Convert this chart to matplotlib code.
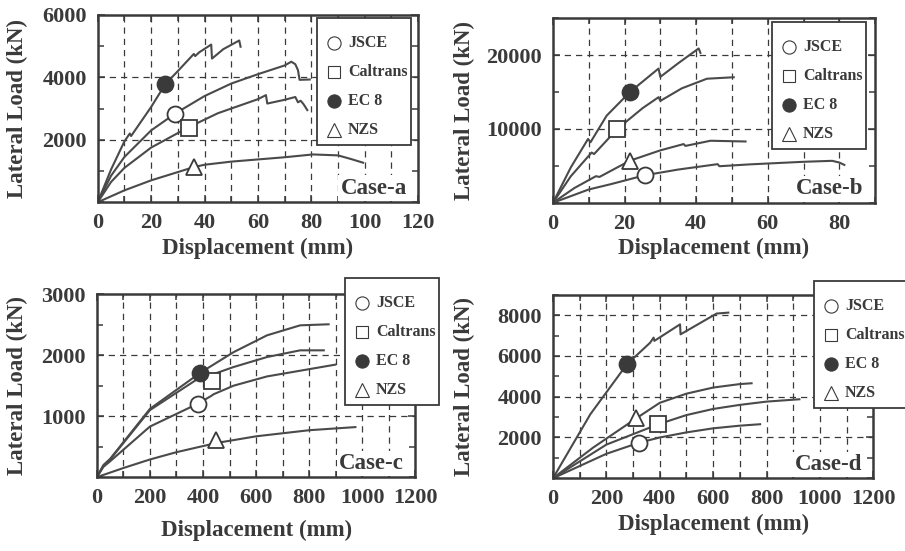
"""Pushover curves for four bridge cases, compared with code predictions."""

import matplotlib.pyplot as plt
from matplotlib.lines import Line2D
from matplotlib.patches import Rectangle
from matplotlib.ticker import MultipleLocator

plt.rcParams["font.family"] = ["Liberation Serif", "DejaVu Serif"]
plt.rcParams["font.weight"] = "bold"

# ---- data: Case-a (mm, kN) ----
a_ec8_x = [0, 5, 10, 12, 12.5, 20, 25.3, 30, 36, 36.5, 38, 42.5, 42.8, 47, 53, 53.5]
a_ec8_y = [0, 1050, 1950, 2200, 2120, 3050, 3780, 4200, 4750, 4680, 4800, 5050, 4600, 4900, 5180, 4980]
a_jsce_x = [0, 5, 10, 20, 29, 40, 50, 60, 70, 72.5, 74, 75, 75.6, 79.4]
a_jsce_y = [0, 850, 1450, 2300, 2840, 3400, 3800, 4100, 4380, 4500, 4420, 4230, 3920, 3930]
a_cal_x = [0, 5, 10, 20, 34, 45, 55, 60, 63, 63.5, 70, 74, 75, 76, 77, 78.5]
a_cal_y = [0, 650, 1100, 1750, 2400, 2850, 3150, 3300, 3430, 3160, 3280, 3370, 3200, 3250, 3150, 2950]
a_nzs_x = [0, 10, 20, 36, 40, 50, 60, 70, 80.6, 90, 95, 99.4]
a_nzs_y = [0, 380, 700, 1125, 1200, 1300, 1370, 1440, 1530, 1500, 1380, 1265]
a_mark_x = [29, 34, 25.3, 36]          # JSCE, Caltrans, EC 8, NZS
a_mark_y = [2840, 2390, 3780, 1125]

# ---- data: Case-b ----
b_ec8_x = [0, 5, 9.8, 10.5, 15, 21.5, 29.5, 30, 35, 40.7, 41.2]
b_ec8_y = [0, 4800, 8640, 8200, 11800, 15000, 18180, 17050, 18900, 20900, 20300]
b_cal_x = [0, 5, 10.8, 11.5, 18, 25, 29.5, 30, 36, 43, 50.5]
b_cal_y = [0, 3600, 6800, 6600, 10000, 12800, 14300, 13800, 15500, 16800, 17000]
b_nzs_x = [0, 6, 12, 13, 21.5, 30, 36.5, 37, 44, 53.8]
b_nzs_y = [0, 2000, 3600, 3500, 5700, 7100, 7950, 7700, 8400, 8300]
b_jsce_x = [0, 10, 16, 25.7, 35, 46, 46.5, 55, 70, 78, 80, 81.4]
b_jsce_y = [0, 1800, 2500, 3730, 4500, 5230, 4950, 5200, 5550, 5680, 5450, 5130]
b_mark_x = [25.7, 18, 21.5, 21.5]
b_mark_y = [3730, 10000, 15000, 5700]

# ---- data: Case-c ----
c_ec8_x = [0, 25, 50, 200, 390, 515, 641, 766, 873]
c_ec8_y = [0, 200, 300, 1120, 1713, 2050, 2326, 2490, 2507]
c_cal_x = [0, 25, 50, 200, 390, 433, 515, 641, 766, 855]
c_cal_y = [0, 190, 290, 1100, 1640, 1680, 1806, 1970, 2080, 2080]
c_jsce_x = [0, 25, 50, 200, 380, 430, 440, 515, 641, 898]
c_jsce_y = [0, 170, 260, 830, 1204, 1330, 1360, 1500, 1652, 1845]
c_nzs_x = [0, 100, 200, 300, 450, 600, 800, 974]
c_nzs_y = [0, 150, 290, 410, 560, 670, 770, 821]
c_mark_x = [380, 433, 390, 450]
c_mark_y = [1204, 1571, 1713, 602]

# ---- data: Case-d ----
d_ec8_x = [0, 140, 277, 364, 377, 380, 476, 478, 613, 657]
d_ec8_y = [0, 3140, 5590, 6650, 6900, 6740, 7550, 7060, 8080, 8125]
d_nzs_x = [0, 150, 312, 400, 500, 600, 700, 744]
d_nzs_y = [0, 1500, 2940, 3700, 4150, 4450, 4620, 4660]
d_cal_x = [0, 200, 395, 500, 600, 700, 800, 923]
d_cal_y = [0, 1650, 2650, 3100, 3400, 3600, 3760, 3875]
d_jsce_x = [0, 200, 324, 400, 500, 600, 700, 776]
d_jsce_y = [0, 1200, 1750, 2000, 2250, 2450, 2580, 2650]
d_mark_x = [324, 395, 277, 312]
d_mark_y = [1750, 2650, 5590, 2943]

codes = ["JSCE", "Caltrans", "EC 8", "NZS"]
markers = ["o", "s", "o", "^"]
fills = ["white", "white", "#3a3a3a", "white"]

ink = "#3a3a3a"
line_c = "#4a4a4a"

W, H = 905, 551
fig = plt.figure(figsize=(W / 100, H / 100), dpi=100)


def fx(px):
    return px / W


def fy(py):
    return 1 - py / H


def draw_legend(left, top):
    """Legend box placed in figure pixels (top-left origin)."""
    w, h = 94, 127
    fig.add_artist(Rectangle((fx(left), fy(top + h)), w / W, h / H,
                             transform=fig.transFigure, fc="white", ec=ink,
                             lw=1.3, zorder=20))
    for i, (lab, m, fc) in enumerate(zip(codes, markers, fills)):
        yy = top + 25 + 29 * i
        fig.add_artist(Line2D([fx(left + 17)], [fy(yy)], transform=fig.transFigure,
                              marker=m, ms=9.5 if m != "s" else 9, mfc=fc, mec=ink,
                              mew=0.8, ls="none", zorder=21))
        fig.text(fx(left + 31), fy(yy), lab, ha="left", va="center", fontsize=11.5,
                 fontweight="bold", color=ink, zorder=21)


panels = [
    # axes position, xlim, ylim, x major step, x grid step, y ticks, curves, marks, case,
    # legend px, xlabel pad, ylabel x (axes fraction)
    ([0.108, 0.633, 0.354, 0.340], (0, 120), (0, 6000), 20, 10, [2000, 4000, 6000],
     [(a_ec8_x, a_ec8_y), (a_jsce_x, a_jsce_y), (a_cal_x, a_cal_y), (a_nzs_x, a_nzs_y)],
     (a_mark_x, a_mark_y), "Case-a", (317, 18), 3, -0.219),
    ([0.611, 0.632, 0.356, 0.335], (0, 90), (0, 25000), 20, 10, [10000, 20000],
     [(b_ec8_x, b_ec8_y), (b_cal_x, b_cal_y), (b_nzs_x, b_nzs_y), (b_jsce_x, b_jsce_y)],
     (b_mark_x, b_mark_y), "Case-b", (772, 22), 3, -0.242),
    ([0.107, 0.134, 0.352, 0.332], (0, 1200), (0, 3000), 200, 100, [1000, 2000, 3000],
     [(c_ec8_x, c_ec8_y), (c_cal_x, c_cal_y), (c_jsce_x, c_jsce_y), (c_nzs_x, c_nzs_y)],
     (c_mark_x, c_mark_y), "Case-c", (345, 278), 8, -0.217),
    ([0.611, 0.132, 0.354, 0.333], (0, 1200), (0, 9000), 200, 100, [2000, 4000, 6000, 8000],
     [(d_ec8_x, d_ec8_y), (d_nzs_x, d_nzs_y), (d_cal_x, d_cal_y), (d_jsce_x, d_jsce_y)],
     (d_mark_x, d_mark_y), "Case-d", (814, 281), 3, -0.244),
]

for pos, xlim, ylim, xmaj, xgrid, yticks, curves, marks, case, legpos, xpad, ylx in panels:
    ax = fig.add_axes(pos)
    ax.set_xlim(*xlim)
    ax.set_ylim(*ylim)

    # dashed grid
    gx = xgrid
    while gx < xlim[1]:
        ax.axvline(gx, color=ink, lw=0.9, ls=(0, (5, 4)), zorder=1)
        gx += xgrid
    for gy in yticks:
        if gy < ylim[1]:
            ax.axhline(gy, color=ink, lw=0.9, ls=(0, (5, 4)), zorder=1)

    for cx, cy in curves:
        ax.plot(cx, cy, color=line_c, lw=1.5, zorder=2)

    for mx, my, m, fc in zip(marks[0], marks[1], markers, fills):
        ax.plot(mx, my, marker=m, ms=11.5 if m != "s" else 11, mfc=fc,
                mec=ink, mew=1.3, ls="none", zorder=4)

    ax.xaxis.set_major_locator(MultipleLocator(xmaj))
    ax.xaxis.set_minor_locator(MultipleLocator(xgrid))
    ax.set_yticks(yticks)
    ax.yaxis.set_minor_locator(MultipleLocator(yticks[0] / 2))
    ax.tick_params(which="both", direction="in", top=True, right=True,
                   colors=ink, labelsize=16, width=1.1, pad=8)
    ax.tick_params(which="major", length=5)
    ax.tick_params(which="minor", length=4)
    for lab in ax.get_xticklabels() + ax.get_yticklabels():
        lab.set_fontweight("bold")
        lab.set_color(ink)
    for sp in ax.spines.values():
        sp.set_color(ink)
        sp.set_linewidth(1.8)

    ax.set_xlabel("Displacement (mm)", fontsize=16.5, fontweight="bold", color=ink, labelpad=xpad)
    ax.set_ylabel("Lateral Load (kN)", fontsize=16.5, fontweight="bold", color=ink)
    ax.yaxis.set_label_coords(ylx, 0.5)

    ax.text(0.965, 0.075, case, transform=ax.transAxes, ha="right", va="center",
            fontsize=16.5, fontweight="bold", color=ink, zorder=5,
            bbox=dict(boxstyle="square,pad=0.1", fc="white", ec="none"))

    draw_legend(*legpos)

fig.savefig("out.png", dpi=100, facecolor="white")
